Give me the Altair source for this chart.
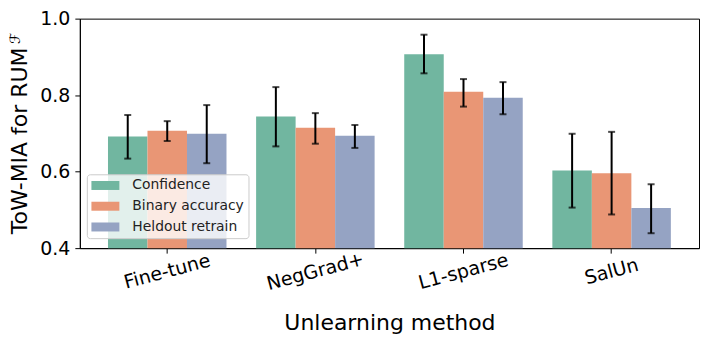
import altair as alt
import pandas as pd

methods = ["Fine-tune", "NegGrad+", "L1-sparse", "SalUn"]
series = ["Confidence", "Binary accuracy", "Heldout retrain"]

conf = [0.692, 0.744, 0.907, 0.603]
conf_lo = [0.634, 0.666, 0.857, 0.506]
conf_hi = [0.748, 0.821, 0.958, 0.699]

binacc = [0.707, 0.715, 0.809, 0.596]
bin_lo = [0.680, 0.673, 0.770, 0.488]
bin_hi = [0.732, 0.753, 0.842, 0.704]

held = [0.699, 0.694, 0.793, 0.505]
held_lo = [0.622, 0.662, 0.750, 0.439]
held_hi = [0.774, 0.722, 0.834, 0.567]

colors = ["#71b6a0", "#e99675", "#95a3c3"]

rows = []
for i, m in enumerate(methods):
    for s, v, lo, hi in [
        (series[0], conf, conf_lo, conf_hi),
        (series[1], binacc, bin_lo, bin_hi),
        (series[2], held, held_lo, held_hi),
    ]:
        rows.append({"method": m, "series": s, "value": v[i], "lo": lo[i], "hi": hi[i]})
df = pd.DataFrame(rows)

FONT = "DejaVu Sans"

x = alt.X(
    "method:N",
    sort=methods,
    scale=alt.Scale(paddingInner=0.2, paddingOuter=0.19),
    axis=alt.Axis(
        title="Unlearning method",
        labelAngle=345,
        labelAlign="center",
        labelBaseline="middle",
        labelPadding=18,
        labelFontSize=19,
        titleFontSize=22,
        titleFontWeight="normal",
        titleBaseline="alphabetic",
        titleY=82,
    ),
)
xo = alt.XOffset("series:N", sort=series, scale=alt.Scale(paddingInner=0, paddingOuter=0))
y_scale = alt.Scale(domain=[0.4, 1.0], zero=False, nice=False)

base = alt.Chart(df)

bars = base.mark_bar(clip=True).encode(
    x=x,
    xOffset=xo,
    y=alt.Y(
        "value:Q",
        scale=y_scale,
        axis=alt.Axis(
            values=[0.4, 0.6, 0.8, 1.0],
            format=".1f",
            title="ToW-MIA for RUM",
            titleAngle=270,
            titleAlign="center",
            titleBaseline="alphabetic",
            titleX=-53,
            titleY=122,
            titleFontSize=22,
            titleFontWeight="normal",
            labelFontSize=19,
            labelPadding=5,
        ),
    ),
    color=alt.Color(
        "series:N",
        sort=series,
        scale=alt.Scale(domain=series, range=colors),
        legend=alt.Legend(
            title=None,
            orient="none",
            legendX=7,
            legendY=156,
            padding=4.2,
            symbolType="M-2,-0.643L2,-0.643L2,0.643L-2,0.643Z",
            symbolSize=196,
            symbolOffset=7.4,
            symbolStrokeWidth=0,
            symbolOpacity=1,
            labelFontSize=13.9,
            labelOffset=20,
            rowPadding=6.8,
            fillColor="rgba(255,255,255,0.8)",
            strokeColor="#cccccc",
            cornerRadius=3,
        ),
    ),
)

rules = base.mark_rule(color="black", strokeWidth=2).encode(
    x=x, xOffset=xo, y=alt.Y("lo:Q", scale=y_scale), y2="hi:Q"
)
cap_lo = base.mark_tick(color="black", thickness=2, size=7).encode(
    x=x, xOffset=xo, y=alt.Y("lo:Q", scale=y_scale)
)
cap_hi = base.mark_tick(color="black", thickness=2, size=7).encode(
    x=x, xOffset=xo, y=alt.Y("hi:Q", scale=y_scale)
)

sup = alt.Chart(pd.DataFrame({"t": ["\u2131"]})).mark_text(
    angle=270, align="center", baseline="alphabetic", fontSize=14,
    font="DejaVu Sans", color="black"
).encode(x=alt.value(-60), y=alt.value(20), text="t:N")

chart = (
    alt.layer(bars, rules, cap_lo, cap_hi, sup)
    .properties(
        width=620.5,
        height=230,
        autosize=alt.AutoSizeParams(type="none"),
        padding={"left": 72, "top": 10.3, "right": 2, "bottom": 88},
    )
    .configure(font=FONT)
    .configure_view(stroke="black", strokeWidth=1)
    .configure_axis(
        grid=False,
        domainColor="black",
        domainWidth=1,
        tickColor="black",
        tickWidth=1,
        tickSize=5,
        labelColor="black",
        titleColor="black",
        labelFont=FONT,
        titleFont=FONT,
    )
    .configure_legend(labelFont=FONT, labelColor="#222222")
)

chart.save("out.html", embed_options={"renderer": "svg", "actions": False})
